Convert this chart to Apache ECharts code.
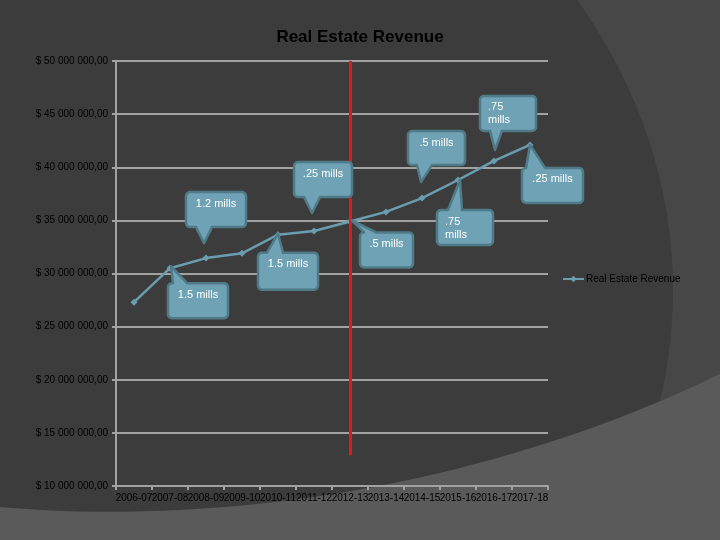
<!DOCTYPE html>
<html>
<head>
<meta charset="utf-8">
<script src="https://cdn.jsdelivr.net/npm/echarts@6/dist/echarts.min.js"></script>
<style>html,body{margin:0;padding:0;background:#3c3c3c;}#c{width:720px;height:540px;}</style>
</head>
<body>
<div id="c"></div>
<script>
// ---- data ----
const categories = ['2006-07','2007-08','2008-09','2009-10','2010-11','2011-12','2012-13','2013-14','2014-15','2015-16','2016-17','2017-18'];
const revenue = [27300000, 30500000, 31450000, 31900000, 33650000, 34000000, 34900000, 35800000, 37100000, 38800000, 40600000, 42100000];
const seriesName = 'Real Estate Revenue';
const yTicks = [10000000, 15000000, 20000000, 25000000, 30000000, 35000000, 40000000, 45000000, 50000000];
const calloutText = ['.75\nmills', '.5 mills', '.25 mills', '.25 mills', '1.2 mills', '.75\nmills', '.5 mills', '1.5 mills', '1.5 mills'];
const calloutIndex = [10, 8, 5, 11, 2, 9, 6, 4, 1];
const markerCategory = '2012-13';
const markerRange = [50000000, 12900000];

// ---- styling (offsets of callout boxes relative to their anchor point) ----
// box: [l,t,r,b], wedge: [edge, a, c, tipDx, tipDy]
const calloutLayout = [
  {box:[-14,-65,42,-30], wedge:['bottom',-4,8,1,-11]},
  {box:[-14,-67,43,-33], wedge:['bottom',-5,10,-1,-16]},
  {box:[-20,-69,38,-34], wedge:['bottom',-10,6,-2,-18]},
  {box:[-8,23,53,58],    wedge:['top',-4,15,0,0]},
  {box:[-20,-66,40,-31], wedge:['bottom',-10,6,-2,-15]},
  {box:[-21,30,35,65],   wedge:['top',-10,4,2,0]},
  {box:[10,11,63,46],    wedge:['top',14,26,2,-1]},
  {box:[-20,18,40,55],   wedge:['top',-11,5,0,-1]},
  {box:[-2,15,58,50],    wedge:['top',3,17,1,-2]}
];

function fmtMoney(v) {
  const s = String(Math.round(v)).replace(/\B(?=(\d{3})+(?!\d))/g, ' ');
  return '$ ' + s + ',00';
}

function bezierPts(p0, p1, p2, p3, n) {
  const out = [];
  for (let i = 0; i <= n; i++) {
    const t = i / n, u = 1 - t;
    out.push([
      u*u*u*p0[0] + 3*u*u*t*p1[0] + 3*u*t*t*p2[0] + t*t*t*p3[0],
      u*u*u*p0[1] + 3*u*u*t*p1[1] + 3*u*t*t*p2[1] + t*t*t*p3[1]
    ]);
  }
  return out;
}

const chart = echarts.init(document.getElementById('c'), null, {renderer: 'canvas'});
const FONT = '"Liberation Sans", Arial, sans-serif';
const gridColor = '#a2a2a2';

const bottomPts = bezierPts([0,507],[200,525],[470,495],[720,374], 40).concat([[720,540],[0,540]]);
const bg = [
  {type:'rect', z:-100, silent:true, shape:{x:0,y:0,width:720,height:540}, style:{fill:'#474747'}},
  {type:'ellipse', z:-99, silent:true, shape:{cx:-97, cy:290, rx:770, ry:600}, style:{fill:'#3c3c3c'}},
  {type:'polygon', z:-98, silent:true, shape:{points: bottomPts}, style:{fill:'#5a5a5a'}}
];

const option = {
  animation: false,
  backgroundColor: '#3c3c3c',
  title: {
    text: 'Real Estate Revenue',
    left: 'center',
    top: 24,
    textStyle: {color: '#000', fontSize: 17, fontWeight: 'bold', fontFamily: FONT}
  },
  legend: {
    left: 562,
    top: 274,
    padding: 0,
    itemWidth: 21,
    itemHeight: 8,
    itemGap: 4,
    textStyle: {color: '#000', fontSize: 10, fontFamily: FONT, padding: [0, 0, 0, -3]},
    data: [seriesName]
  },
  grid: {left: 116, right: 172, top: 61, bottom: 54, containLabel: false},
  xAxis: {
    type: 'category',
    data: categories,
    boundaryGap: true,
    axisLine: {lineStyle: {color: gridColor, width: 2}},
    axisTick: {show: true, length: 4, lineStyle: {color: gridColor, width: 2}},
    axisLabel: {interval: 0, color: '#000', fontSize: 10, fontFamily: FONT, margin: 7},
    splitLine: {show: false}
  },
  yAxis: {
    type: 'value',
    min: yTicks[0],
    max: yTicks[yTicks.length - 1],
    interval: yTicks[1] - yTicks[0],
    axisLine: {show: true, lineStyle: {color: gridColor, width: 2}},
    axisTick: {show: true, length: 4, lineStyle: {color: gridColor, width: 2}},
    axisLabel: {color: '#000', fontSize: 10, fontFamily: FONT, margin: 8, formatter: fmtMoney},
    splitLine: {show: true, lineStyle: {color: gridColor, width: 2}}
  },
  series: [{
    name: seriesName,
    type: 'line',
    data: revenue,
    symbol: 'diamond',
    symbolSize: 7,
    itemStyle: {color: '#6b9db0'},
    lineStyle: {color: '#6b9db0', width: 2.5},
    z: 3,
    markLine: {
      silent: true,
      symbol: 'none',
      label: {show: false},
      lineStyle: {color: '#e01a1a', width: 3, type: 'solid'},
      data: [[{coord: [markerCategory, markerRange[0]]}, {coord: [markerCategory, markerRange[1]]}]]
    }
  }],
  graphic: {elements: bg}
};
chart.setOption(option);

function arcPts(cx, cy, r, a0, a1) {
  const out = [];
  for (let i = 0; i <= 4; i++) {
    const a = a0 + (a1 - a0) * i / 4;
    out.push([cx + r * Math.cos(a), cy + r * Math.sin(a)]);
  }
  return out;
}

function calloutPoly(l, t, r, b, w, tx, ty) {
  const k = 4, P = Math.PI;
  let pts = [];
  pts = pts.concat(arcPts(l + k, t + k, k, P, 1.5 * P));
  if (w[0] === 'top') pts.push([w[1], t], [tx, ty], [w[2], t]);
  pts = pts.concat(arcPts(r - k, t + k, k, 1.5 * P, 2 * P));
  pts = pts.concat(arcPts(r - k, b - k, k, 0, 0.5 * P));
  if (w[0] === 'bottom') pts.push([w[2], b], [tx, ty], [w[1], b]);
  pts = pts.concat(arcPts(l + k, b - k, k, 0.5 * P, P));
  return pts;
}

const els = bg.slice();
calloutIndex.forEach(function (idx, i) {
  const pt = chart.convertToPixel({seriesIndex: 0}, [idx, revenue[idx]]);
  const L = calloutLayout[i];
  const l = pt[0] + L.box[0], t = pt[1] + L.box[1], r = pt[0] + L.box[2], b = pt[1] + L.box[3];
  const w = [L.wedge[0], pt[0] + L.wedge[1], pt[0] + L.wedge[2]];
  const tx = pt[0] + L.wedge[3], ty = pt[1] + L.wedge[4];
  els.push({
    type: 'polygon', z: 50,
    shape: {points: calloutPoly(l, t, r, b, w, tx, ty)},
    style: {fill: '#6fa2b4', stroke: '#4f7b89', lineWidth: 2.5, lineJoin: 'round'}
  });
  const multi = calloutText[i].indexOf('\n') >= 0;
  els.push({
    type: 'text', z: 51,
    style: {
      text: calloutText[i],
      x: multi ? l + 8 : (l + r) / 2,
      y: t + 5,
      fill: '#ffffff',
      font: '11px ' + FONT,
      lineHeight: 13,
      textAlign: multi ? 'left' : 'center',
      textVerticalAlign: 'top'
    }
  });
});
chart.setOption({graphic: {elements: els}}, {replaceMerge: ['graphic']});
</script>
</body>
</html>
